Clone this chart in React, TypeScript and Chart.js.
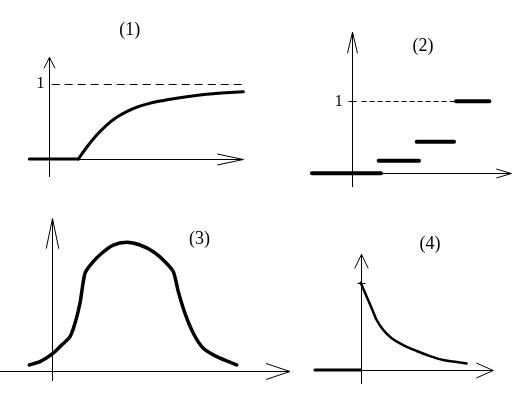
import React, { useEffect, useRef } from "react";
import { Chart, registerables } from "chart.js";

Chart.register(...registerables);

// ---------- Panel (1): continuous distribution function ----------
const p1FlatX = [-1.97, 2.93];
const p1FlatY = [0, 0];
const p1CurveX = [2.93, 3.77, 4.77, 5.77, 6.77, 7.77, 8.93, 9.77, 11.1, 12.43, 13.77, 15.1, 16.43, 18.1, 19.43];
const p1CurveY = [0, 0.157, 0.321, 0.455, 0.558, 0.635, 0.7, 0.735, 0.776, 0.807, 0.834, 0.857, 0.874, 0.889, 0.9];
const p1RefLevel = 1;
const p1RefX = [0.27, 19.43];

// ---------- Panel (2): step function ----------
const p2StepStart = [-3.97, 2.7, 6.5, 10.43];
const p2StepEnd = [2.93, 6.73, 10.23, 13.76];
const p2StepLevel = [0, 0.175, 0.44, 1];
const p2RefLevel = 1;
const p2RefX = [1.0, 10.43];
const p2Ticks = [1];

// ---------- Panel (3): bell curve ----------
const p3X = [-2.3, -1.23, 0, 0.94, 1.77, 2.27, 2.77, 3.27, 3.94, 4.94, 6.1, 7.44, 8.77, 10.1, 11.27, 12.1, 12.6, 13.27, 14.1, 15.1, 16.44, 18.44];
const p3Y = [0.047, 0.073, 0.133, 0.203, 0.268, 0.373, 0.529, 0.763, 0.841, 0.92, 0.984, 1.005, 0.984, 0.932, 0.854, 0.776, 0.62, 0.45, 0.295, 0.177, 0.112, 0.047];

// ---------- Panel (4): decaying density ----------
const p4FlatX = [-4.57, 0];
const p4FlatY = [0, 0];
const p4X = [0, 0.6, 1.1, 1.6, 2.26, 3.1, 4.26, 5.6, 6.93, 8.26, 9.6, 10.6];
const p4Y = [1.0, 0.84, 0.707, 0.573, 0.458, 0.363, 0.286, 0.218, 0.16, 0.115, 0.092, 0.076];
const p4Ticks = [1];

// ---------- labels ----------
const panelTitles = ["(1)", "(2)", "(3)", "(4)"];
const levelLabel = "1";

const SERIF = "'Liberation Serif', 'Times New Roman', serif";

type Pt = { x: number; y: number };
const pts = (xs: number[], ys: number[]): Pt[] => xs.map((x, i) => ({ x, y: ys[i] }));

function lineDs(data: Pt[], width: number, extra: any = {}) {
  return {
    data,
    borderColor: "#000",
    backgroundColor: "#000",
    borderWidth: width,
    pointRadius: 0,
    fill: false,
    clip: false,
    borderCapStyle: "round",
    borderJoinStyle: "round",
    tension: 0,
    ...extra,
  };
}

type TextSpec = { text: string; x: number; y: number; size: number };
type PanelSpec = {
  left: number;
  top: number;
  w: number;
  h: number;
  xRange: [number, number];
  yRange: [number, number];
  xAxis: [number, number];
  yAxis: [number, number];
  xArrow: [number, number];
  yArrow: [number, number];
  ticks: number[];
  tickHalf: number;
  ref?: { level: number; from: number; to: number; dash: number[] };
  texts: TextSpec[];
  datasets: any[];
};

const panels: PanelSpec[] = [
  {
    left: 0, top: 0, w: 263, h: 196,
    xRange: [-4.9, 21.4], yRange: [-0.495, 2.128],
    xAxis: [-1.97, 19.43], yAxis: [-0.24, 1.36],
    xArrow: [26, 5.5], yArrow: [11, 5.5],
    ticks: [], tickHalf: 4,
    ref: { level: p1RefLevel, from: p1RefX[0], to: p1RefX[1], dash: [8, 5] },
    texts: [
      { text: levelLabel, x: -0.85, y: p1RefLevel, size: 16 },
      { text: panelTitles[0], x: 8.07, y: 1.717, size: 18 },
    ],
    datasets: [
      lineDs(pts(p1FlatX, p1FlatY), 3),
      lineDs(pts(p1CurveX, p1CurveY), 3, { cubicInterpolationMode: "monotone" }),
    ],
  },
  {
    left: 263, top: 0, w: 263, h: 196,
    xRange: [-8.87, 17.43], yRange: [-0.315, 2.407],
    xAxis: [-3.97, 15.96], yAxis: [-0.19, 1.96],
    xArrow: [15, 4.5], yArrow: [21, 5],
    ticks: p2Ticks, tickHalf: 4,
    ref: { level: p2RefLevel, from: p2RefX[0], to: p2RefX[1], dash: [5, 3] },
    texts: [
      { text: levelLabel, x: -1.29, y: p2RefLevel, size: 16 },
      { text: panelTitles[1], x: 7.13, y: 1.768, size: 18 },
    ],
    datasets: p2StepLevel.map((lv, i) =>
      lineDs(pts([p2StepStart[i], p2StepEnd[i]], [lv, lv]), 4)
    ),
  },
  {
    left: 0, top: 196, w: 300, h: 197,
    xRange: [-5.23, 24.77], yRange: [-0.172, 1.367],
    xAxis: [-5.23, 23.77], yAxis: [-0.078, 1.19],
    xArrow: [24, 8], yArrow: [30, 6.3],
    ticks: [], tickHalf: 4,
    texts: [{ text: panelTitles[2], x: 14.72, y: 1.029, size: 18 }],
    datasets: [lineDs(pts(p3X, p3Y), 3.5, { tension: 0.25 })],
  },
  {
    left: 300, top: 196, w: 226, h: 197,
    xRange: [-6.07, 16.53], yRange: [-0.263, 1.993],
    xAxis: [-4.57, 13.26], yAxis: [-0.16, 1.325],
    xArrow: [17, 7.5], yArrow: [14, 6.7],
    ticks: p4Ticks, tickHalf: 4,
    texts: [{ text: panelTitles[3], x: 6.93, y: 1.44, size: 18 }],
    datasets: [
      lineDs(pts(p4FlatX, p4FlatY), 3),
      lineDs(pts(p4X, p4Y), 2.5, { cubicInterpolationMode: "monotone" }),
    ],
  },
];

function makeSketchPlugin(p: PanelSpec) {
  return {
    id: "sketchAxes",
    beforeDatasetsDraw(chart: any) {
      const ctx = chart.ctx as CanvasRenderingContext2D;
      const xs = chart.scales.x;
      const ys = chart.scales.y;
      const crisp = (v: number) => Math.round(v) + 0.5;
      ctx.save();
      ctx.strokeStyle = "#000";
      ctx.lineWidth = 1;
      ctx.lineCap = "butt";
      // horizontal axis with open arrowhead
      const y0 = crisp(ys.getPixelForValue(0));
      const xa = xs.getPixelForValue(p.xAxis[0]);
      const xb = xs.getPixelForValue(p.xAxis[1]);
      ctx.beginPath();
      ctx.moveTo(xa, y0);
      ctx.lineTo(xb, y0);
      ctx.moveTo(xb - p.xArrow[0], y0 - p.xArrow[1]);
      ctx.lineTo(xb, y0);
      ctx.lineTo(xb - p.xArrow[0], y0 + p.xArrow[1]);
      ctx.stroke();
      // vertical axis with open arrowhead
      const x0 = crisp(xs.getPixelForValue(0));
      const ya = ys.getPixelForValue(p.yAxis[0]);
      const yb = ys.getPixelForValue(p.yAxis[1]);
      ctx.beginPath();
      ctx.moveTo(x0, ya);
      ctx.lineTo(x0, yb);
      ctx.moveTo(x0 - p.yArrow[1], yb + p.yArrow[0]);
      ctx.lineTo(x0, yb);
      ctx.lineTo(x0 + p.yArrow[1], yb + p.yArrow[0]);
      ctx.stroke();
      // small ticks on the vertical axis
      for (const t of p.ticks) {
        const ty = crisp(ys.getPixelForValue(t));
        ctx.beginPath();
        ctx.moveTo(x0 - p.tickHalf, ty);
        ctx.lineTo(x0 + p.tickHalf, ty);
        ctx.stroke();
      }
      // dashed reference level
      if (p.ref) {
        const ry = crisp(ys.getPixelForValue(p.ref.level));
        ctx.setLineDash(p.ref.dash);
        ctx.beginPath();
        ctx.moveTo(xs.getPixelForValue(p.ref.from), ry);
        ctx.lineTo(xs.getPixelForValue(p.ref.to), ry);
        ctx.stroke();
        ctx.setLineDash([]);
      }
      ctx.restore();
    },
    afterDraw(chart: any) {
      const ctx = chart.ctx as CanvasRenderingContext2D;
      const xs = chart.scales.x;
      const ys = chart.scales.y;
      ctx.save();
      ctx.fillStyle = "#000";
      ctx.textAlign = "center";
      ctx.textBaseline = "middle";
      for (const t of p.texts) {
        ctx.font = `${t.size}px ${SERIF}`;
        ctx.fillText(t.text, xs.getPixelForValue(t.x), ys.getPixelForValue(t.y));
      }
      ctx.restore();
    },
  };
}

function Panel({ spec }: { spec: PanelSpec }) {
  const ref = useRef<HTMLCanvasElement>(null);
  useEffect(() => {
    if (!ref.current) return;
    const chart = new Chart(ref.current, {
      type: "line",
      data: { datasets: spec.datasets },
      options: {
        animation: false,
        responsive: false,
        maintainAspectRatio: false,
        events: [],
        layout: { padding: 0 },
        plugins: {
          legend: { display: false },
          title: { display: false },
          tooltip: { enabled: false },
        },
        scales: {
          x: { type: "linear", display: false, min: spec.xRange[0], max: spec.xRange[1] },
          y: { type: "linear", display: false, min: spec.yRange[0], max: spec.yRange[1] },
        },
      } as any,
      plugins: [makeSketchPlugin(spec)],
    } as any);
    return () => chart.destroy();
  }, [spec]);
  return (
    <canvas
      ref={ref}
      width={spec.w}
      height={spec.h}
      style={{
        position: "absolute",
        left: spec.left,
        top: spec.top,
        width: spec.w,
        height: spec.h,
        display: "block",
      }}
    />
  );
}

export default function App() {
  return (
    <div
      style={{
        position: "fixed",
        left: 0,
        top: 0,
        width: 526,
        height: 393,
        background: "#fff",
        overflow: "hidden",
      }}
    >
      {panels.map((p, i) => (
        <Panel key={i} spec={p} />
      ))}
    </div>
  );
}
